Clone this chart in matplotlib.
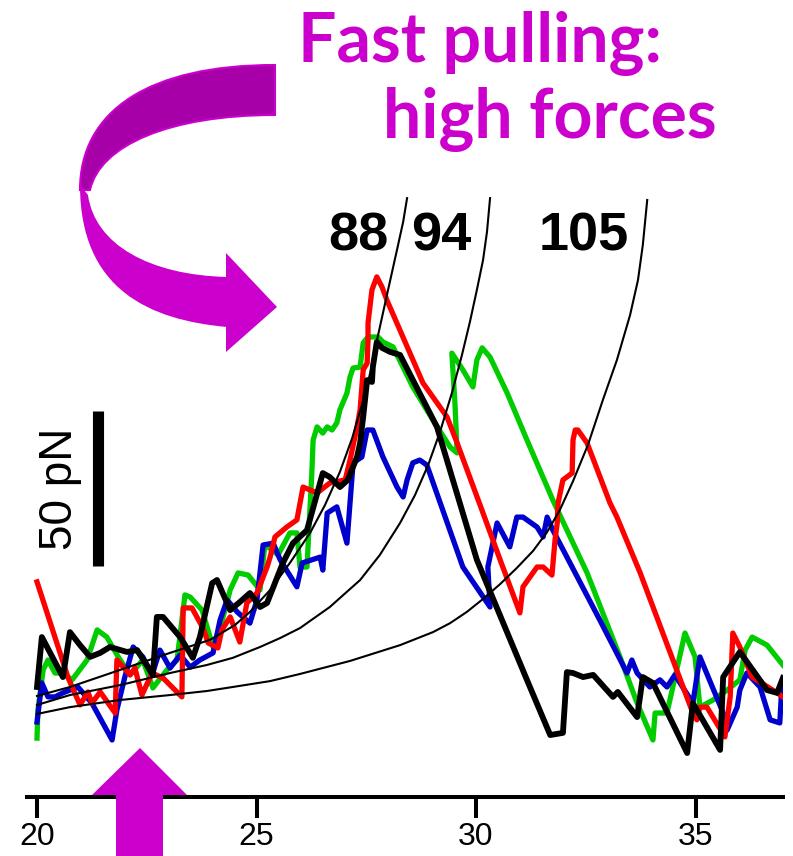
import matplotlib.pyplot as plt
from matplotlib.path import Path
from matplotlib.patches import PathPatch, Polygon

plt.rcParams['font.family'] = ['Liberation Sans', 'DejaVu Sans']

# force-extension traces, extension in nm, force in pN (offset baseline)
red_x = [20.00, 20.71, 20.98, 21.16, 21.25, 21.44, 21.78, 21.82, 22.12, 22.23,
         22.39, 22.62, 22.87, 23.30, 23.33, 23.53, 23.78, 23.90, 24.12, 24.21,
         24.40, 24.62, 24.78, 25.01, 25.24, 25.31, 25.42, 25.69, 25.92, 26.06,
         26.38, 26.67, 27.02, 27.13, 27.29, 27.36, 27.43, 27.52, 27.54, 27.54,
         27.63, 27.74, 27.86, 27.97, 28.79, 29.34, 29.57, 30.16, 30.55, 31.00,
         31.07, 31.39, 31.53, 31.73, 31.80, 31.85, 31.87, 31.98, 32.19, 32.21,
         32.26, 32.32, 32.53, 33.05, 33.21, 33.74, 34.94, 35.03, 35.10, 35.26,
         35.67, 35.79, 35.85, 36.01, 36.29, 36.86, 36.99]
red_f = [51.0, 20.0, 11.3, 15.5, 11.9, 15.5, 8.7, 25.8, 21.0, 23.2,
         14.5, 21.6, 20.0, 13.9, 42.6, 42.6, 36.1, 31.3, 29.7, 35.5,
         39.7, 31.6, 44.2, 47.4, 55.8, 59.0, 65.5, 68.7, 71.0, 81.6,
         79.7, 82.9, 83.9, 90.3, 101.0, 106.5, 119.4, 121.6, 129.0, 134.5,
         145.2, 149.4, 146.1, 141.9, 115.2, 104.2, 95.8, 73.2, 58.1, 41.0,
         49.4, 55.8, 55.8, 53.2, 64.5, 70.0, 76.5, 83.9, 86.1, 96.8,
         100.0, 100.0, 95.8, 76.5, 71.9, 53.9, 8.7, 6.5, 10.6, 10.6,
         1.0, 13.9, 34.5, 30.0, 20.3, 15.2, 13.9]

green_x = [20.00, 20.02, 20.14, 20.25, 20.41, 20.57, 20.80, 21.14, 21.37, 21.59,
           21.85, 22.12, 22.41, 22.64, 22.96, 23.19, 23.37, 23.49, 23.76, 24.01,
           24.21, 24.40, 24.58, 24.81, 25.08, 25.19, 25.26, 25.49, 25.76, 25.92,
           25.99, 26.15, 26.26, 26.29, 26.38, 26.51, 26.61, 26.72, 26.83, 26.90,
           27.06, 27.13, 27.20, 27.36, 27.43, 27.54, 27.77, 27.88, 28.11, 28.56,
           29.02, 29.41, 29.57, 29.52, 29.45, 29.70, 29.93, 30.02, 30.14, 30.32,
           30.71, 31.16, 31.75, 32.53, 33.28, 33.67, 34.03, 34.08, 34.35, 34.76,
           34.99, 35.10, 35.40, 35.72, 36.01, 36.13, 36.29, 36.63, 36.99]
green_f = [0.6, 9.7, 22.6, 25.8, 21.6, 21.6, 19.4, 25.8, 35.5, 33.2,
           26.8, 21.0, 25.8, 16.8, 22.6, 25.8, 46.8, 46.1, 41.9, 30.0,
           38.1, 48.4, 53.9, 53.2, 48.4, 62.9, 62.3, 59.7, 66.8, 66.8,
           55.8, 55.8, 86.1, 96.8, 101.0, 99.0, 101.0, 100.0, 102.3, 106.5,
           111.9, 117.1, 120.0, 120.3, 128.1, 130.0, 130.0, 128.4, 126.8, 113.9,
           103.2, 94.5, 92.6, 108.7, 124.8, 119.4, 113.9, 122.6, 126.5, 123.5,
           111.9, 96.8, 77.4, 53.9, 26.8, 11.9, 0.0, 8.7, 8.7, 34.5,
           26.8, 10.6, 12.9, 16.1, 19.4, 29.0, 33.2, 30.6, 24.2]

blue_x = [20.00, 20.11, 20.25, 20.41, 20.59, 20.93, 21.25, 21.71, 21.82, 22.00,
          22.19, 22.41, 22.62, 22.80, 23.03, 23.26, 23.49, 23.71, 24.01, 24.17,
          24.33, 24.56, 24.85, 25.01, 25.15, 25.38, 25.54, 25.92, 26.04, 26.45,
          26.51, 26.61, 26.83, 27.06, 27.20, 27.40, 27.52, 27.65, 27.88, 28.20,
          28.34, 28.43, 28.56, 28.72, 28.88, 29.70, 30.32, 30.27, 30.48, 30.77,
          30.93, 31.07, 31.39, 31.53, 31.62, 31.75, 32.82, 33.44, 33.55, 33.67,
          33.96, 34.19, 34.35, 34.53, 34.94, 35.10, 35.63, 35.72, 35.95, 36.01,
          36.17, 36.47, 36.70, 36.92, 36.97]
blue_f = [5.8, 18.4, 13.9, 13.9, 15.2, 17.1, 11.9, 0.0, 9.7, 20.3,
          30.0, 26.8, 21.0, 29.0, 23.2, 27.4, 23.5, 25.8, 28.1, 38.7,
          45.2, 41.3, 37.7, 45.2, 62.9, 63.5, 58.1, 49.4, 57.1, 59.0,
          54.8, 73.2, 75.2, 63.5, 89.4, 91.3, 100.0, 100.0, 91.3, 81.6,
          78.4, 83.9, 89.4, 90.3, 88.7, 55.8, 42.9, 55.8, 70.0, 62.3,
          71.9, 71.9, 68.7, 65.5, 71.9, 67.7, 38.7, 21.6, 25.8, 21.6,
          17.1, 19.4, 17.1, 21.0, 11.9, 26.8, 8.7, 3.2, 10.6, 16.1,
          21.6, 17.1, 6.5, 5.5, 18.4]

black_x = [20.00, 20.11, 20.30, 20.59, 20.75, 20.98, 21.21, 21.44, 21.66, 22.05,
           22.28, 22.64, 22.73, 22.87, 23.26, 23.55, 23.71, 23.99, 24.10, 24.40,
           24.62, 24.85, 25.08, 25.24, 25.60, 25.83, 26.15, 26.51, 26.67, 26.90,
           27.08, 27.29, 27.36, 27.43, 27.52, 27.63, 27.65, 27.70, 27.74, 27.86,
           28.04, 28.27, 29.11, 30.02, 31.16, 31.69, 31.98, 32.07, 32.21, 32.44,
           32.67, 33.12, 33.23, 33.67, 33.80, 34.03, 34.81, 34.94, 35.56, 35.63,
           36.01, 36.63, 36.86, 36.99]
black_f = [17.1, 33.2, 28.1, 20.3, 34.8, 30.6, 26.8, 28.1, 30.0, 28.4,
           29.0, 21.0, 39.7, 39.7, 33.2, 26.5, 33.2, 50.6, 51.6, 41.9,
           44.5, 47.4, 42.9, 44.2, 57.1, 63.5, 67.7, 86.1, 84.8, 81.6,
           83.9, 91.3, 95.8, 104.2, 116.1, 115.5, 120.3, 124.8, 128.4, 126.5,
           125.2, 124.2, 101.0, 58.1, 19.4, 1.6, 2.3, 21.9, 21.6, 20.3,
           21.0, 13.9, 15.5, 7.4, 20.3, 18.4, -4.2, 11.9, -3.2, 20.3,
           28.4, 16.1, 15.2, 20.0]

# worm-like-chain curves, contour lengths 88, 94, 105 nm
wlc88_x = [20.00, 20.75, 21.89, 23.03, 23.94, 24.51, 24.85, 25.31, 25.76, 26.22,
           26.56, 26.90, 27.18, 27.40, 27.59, 27.74, 27.97, 28.20, 28.34, 28.43]
wlc88_f = [14.2, 17.1, 22.6, 28.1, 32.3, 37.1, 41.3, 48.4, 57.1, 66.8,
           75.8, 86.5, 97.4, 108.1, 118.4, 128.7, 143.5, 158.1, 167.1, 174.8]
wlc94_x = [20.00, 20.75, 21.89, 23.03, 23.87, 24.46, 25.08, 25.54, 25.99, 26.67,
           27.36, 27.81, 28.27, 28.61, 28.91, 29.18, 29.45, 29.68, 29.86, 30.02,
           30.16, 30.25, 30.32]
wlc94_f = [11.3, 14.5, 17.7, 21.6, 24.2, 26.5, 30.0, 32.9, 36.1, 42.9,
           51.6, 59.7, 70.0, 79.0, 88.7, 99.4, 111.9, 124.2, 134.8, 145.2,
           154.8, 163.9, 174.8]
wlc105_x = [20.00, 20.75, 21.89, 23.03, 23.87, 24.46, 25.31, 25.99, 27.13, 28.27,
            29.02, 29.41, 29.79, 30.16, 30.55, 30.93, 31.30, 31.62, 31.91, 32.21,
            32.55, 32.89, 33.21, 33.51, 33.69, 33.80, 33.90]
wlc105_f = [8.4, 10.6, 12.9, 14.5, 15.8, 17.1, 19.0, 21.3, 25.5, 30.6,
            34.8, 37.7, 41.3, 45.5, 50.3, 55.5, 61.0, 67.1, 74.2, 83.5,
            95.2, 109.7, 122.6, 137.1, 148.4, 159.7, 174.2]

xticks = [20, 25, 30, 35]

W, H = 793, 856
fig = plt.figure(figsize=(W / 100, H / 100), dpi=100)
ax = fig.add_axes([27 / W, 59 / H, 756 / W, 797 / H])
ax.set_xlim(19.772, 36.993)
ax.set_ylim(-18.39, 238.71)

ax.plot(green_x, green_f, color='#00CC00', lw=3.8)
ax.plot(blue_x, blue_f, color='#0000CC', lw=3.8)
ax.plot(red_x, red_f, color='#FF0000', lw=3.8)
ax.plot(black_x, black_f, color='black', lw=4.2)
for wx, wf, lab in [(wlc88_x, wlc88_f, '88'), (wlc94_x, wlc94_f, '94'),
                    (wlc105_x, wlc105_f, '105')]:
    ax.plot(wx, wf, color='black', lw=1.5)
    ax.text(wx[-1] - 0.42, 158, lab, ha='right', va='baseline',
            fontsize=39, fontweight='bold')

# 50 pN scale bar
ax.plot([21.39, 21.39], [56, 106], color='black', lw=8, solid_capstyle='butt')
ax.text(20.52, 81, '50 pN', rotation=90, ha='center', va='center', fontsize=33)

for s in ['left', 'top', 'right']:
    ax.spines[s].set_visible(False)
ax.spines['bottom'].set_linewidth(2.9)
ax.set_yticks([])
ax.set_xticks(xticks)
ax.tick_params(axis='x', length=15, width=2.9, labelsize=23, pad=3)
ax.patch.set_alpha(0)

# annotation layer in pixel units
deco = fig.add_axes([0, 0, 1, 1])
deco.set_xlim(0, W)
deco.set_ylim(H, 0)
deco.axis('off')
deco.patch.set_alpha(0)

mag = '#CC00CC'
top_band = Path([(275, 65), (150, 65), (80, 110), (80, 190),
                 (90, 190), (100, 145), (170, 115), (275, 115), (275, 65)],
                [Path.MOVETO, Path.CURVE4, Path.CURVE4, Path.CURVE4,
                 Path.LINETO, Path.CURVE4, Path.CURVE4, Path.CURVE4, Path.CLOSEPOLY])
deco.add_patch(PathPatch(top_band, facecolor='#A800A8', edgecolor=mag, lw=1.5))
low_band = Path([(80, 185), (80, 290), (150, 320), (227, 327),
                 (227, 277), (150, 275), (95, 245), (88, 195), (80, 185)],
                [Path.MOVETO, Path.CURVE4, Path.CURVE4, Path.CURVE4,
                 Path.LINETO, Path.CURVE4, Path.CURVE4, Path.CURVE4, Path.CLOSEPOLY])
deco.add_patch(PathPatch(low_band, facecolor=mag, edgecolor='none'))
deco.add_patch(Polygon([(226, 253), (277, 307), (226, 352)], closed=True,
                       facecolor=mag, edgecolor='none'))

deco.add_patch(Polygon([(140, 748), (187, 795), (163, 795), (163, 856),
                        (116, 856), (116, 795), (92, 795)], closed=True,
                       facecolor=mag, edgecolor='none'))

deco.text(298, 62, 'Fast pulling:', family='Lato', fontweight='bold',
          fontsize=49, color=mag, ha='left', va='baseline')
deco.text(383, 138, 'high forces', family='Lato', fontweight='bold',
          fontsize=49, color=mag, ha='left', va='baseline')

fig.savefig('out.png', dpi=100)
